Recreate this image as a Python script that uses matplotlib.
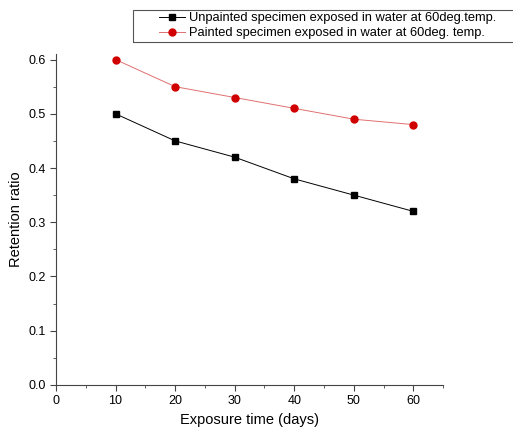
import matplotlib
matplotlib.use("Agg")
import matplotlib.pyplot as plt
from matplotlib.ticker import MultipleLocator
from matplotlib.patches import Rectangle

plt.rcParams['font.family'] = ['Liberation Sans', 'DejaVu Sans']

days = [10, 20, 30, 40, 50, 60]
unpainted = [0.50, 0.45, 0.42, 0.38, 0.35, 0.32]
painted = [0.60, 0.55, 0.53, 0.51, 0.49, 0.48]
labels = ['Unpainted specimen exposed in water at 60deg.temp.',
          'Painted specimen exposed in water at 60deg. temp.']

fig = plt.figure(figsize=(5.13, 4.33), dpi=100)
ax = fig.add_axes([0.109, 0.111, 0.755, 0.764])

ax.plot(days, unpainted, color='black', lw=0.7, marker='s', ms=4.5, label=labels[0])
ax.plot(days, painted, color='#e07070', lw=0.7, marker='o', ms=5,
        mfc='#d00000', mec='#d00000', label=labels[1])

ax.set_xlim(0, 65)
ax.set_ylim(0, 0.61)
ax.xaxis.set_major_locator(MultipleLocator(10))
ax.xaxis.set_minor_locator(MultipleLocator(5))
ax.yaxis.set_major_locator(MultipleLocator(0.1))
ax.yaxis.set_minor_locator(MultipleLocator(0.05))
ax.yaxis.set_major_formatter(plt.FormatStrFormatter('%.1f'))
for s in ['top', 'right']:
    ax.spines[s].set_visible(False)
for s in ['left', 'bottom']:
    ax.spines[s].set_color('#444444')
ax.tick_params(which='major', direction='out', length=4, labelsize=9, color='#444444')
ax.tick_params(which='minor', direction='out', length=2.5, color='#444444')

ax.set_xlabel('Exposure time (days)', fontsize=10.5)
ax.set_ylabel('Retention ratio', fontsize=10.5)

# legend box, runs off the right edge like the original
fig.patches.append(Rectangle((133 / 513, 1 - 42 / 433), 400 / 513, 32 / 433,
                             transform=fig.transFigure, fill=False,
                             edgecolor='#555555', lw=0.8))
leg = fig.legend(loc='upper left', bbox_to_anchor=(0.305, 0.978), fontsize=9.3,
                 frameon=False, handlelength=2.0, handletextpad=0.3,
                 borderpad=0.2, labelspacing=0.25, borderaxespad=0)

fig.savefig('out.png', dpi=100)
